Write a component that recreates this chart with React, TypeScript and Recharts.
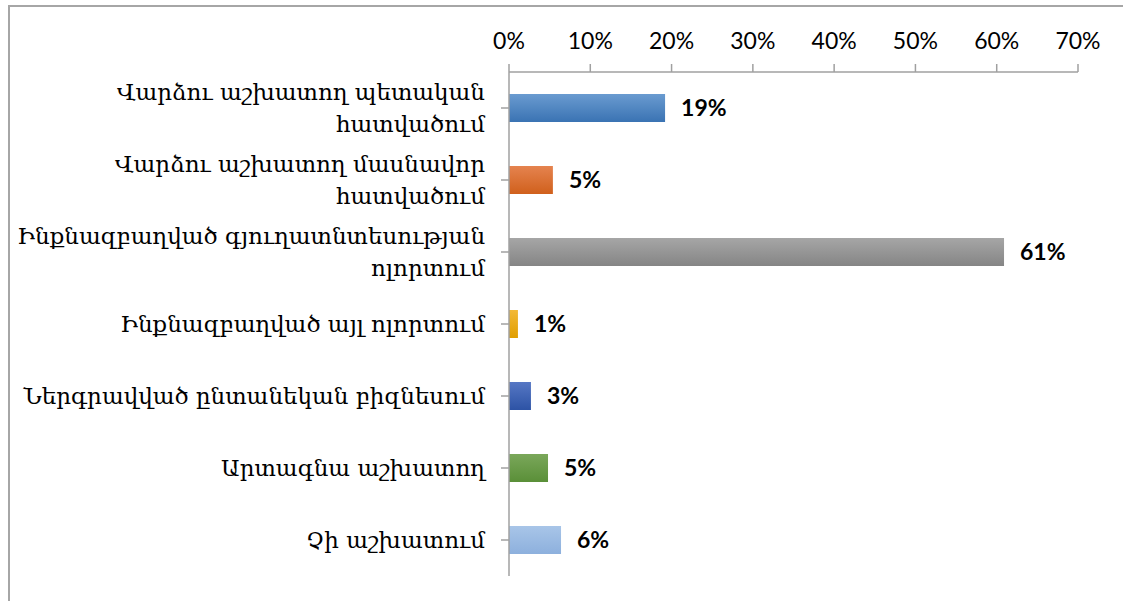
import React from "react";
import { BarChart, Bar, XAxis, YAxis, Cell, LabelList } from "recharts";

const categories = [
  "Վարձու աշխատող պետական\nհատվածում",
  "Վարձու աշխատող մասնավոր\nհատվածում",
  "Ինքնազբաղված գյուղատնտեսության\nոլորտում",
  "Ինքնազբաղված այլ ոլորտում",
  "Ներգրավված ընտանեկան բիզնեսում",
  "Արտագնա աշխատող",
  "Չի աշխատում",
];
const shares = [19.2, 5.4, 60.9, 1.1, 2.7, 4.8, 6.4];
const xTicks = [0, 10, 20, 30, 40, 50, 60, 70];

const gradients = [
  ["#6a9bd0", "#3a73b3"],
  ["#e5834f", "#d0601c"],
  ["#a6a6a6", "#858585"],
  ["#f3b937", "#e09e00"],
  ["#5677c4", "#2d53a5"],
  ["#7aa75a", "#5a8f38"],
  ["#a8c5e8", "#8db0dd"],
];

const data = categories.map((name, i) => ({ name, value: shares[i] }));

const CategoryTick = (props: any) => {
  const { x, y, payload } = props;
  const lines = String(payload.value).split("\n");
  const lh = 32;
  const y0 = y - ((lines.length - 1) * lh) / 2;
  return (
    <text
      x={x}
      y={y0}
      textAnchor="end"
      fontFamily="'DejaVu Serif', serif"
      fontSize={23}
      fill="#000"
      dominantBaseline="central"
    >
      {lines.map((l, i) => (
        <tspan key={i} x={x} y={y0 + i * lh} dominantBaseline="central">
          {l}
        </tspan>
      ))}
    </text>
  );
};

export default function App() {
  return (
    <div style={{ position: "absolute", left: 0, top: 0, width: 1123, height: 601, background: "#fff" }}>
      <div
        style={{
          position: "absolute",
          left: 8,
          top: 5,
          right: -2,
          bottom: -2,
          borderTop: "2px solid #a6a6a6",
          borderLeft: "2px solid #a6a6a6",
        }}
      />
      <div style={{ position: "absolute", left: 0, top: 0 }}>
        <BarChart
          layout="vertical"
          width={1123}
          height={601}
          data={data}
          margin={{ top: 0, right: 45, bottom: 25, left: 0 }}
        >
          <defs>
            {gradients.map((g, i) => (
              <linearGradient key={i} id={`g${i}`} x1="0" y1="0" x2="0" y2="1">
                <stop offset="0%" stopColor={g[0]} />
                <stop offset="100%" stopColor={g[1]} />
              </linearGradient>
            ))}
          </defs>
          <XAxis
            type="number"
            orientation="top"
            domain={[0, 70]}
            ticks={xTicks}
            interval={0}
            height={72}
            tickSize={8}
            tickMargin={15}
            tickFormatter={(v: number) => `${v}%`}
            axisLine={{ stroke: "#a0a0a0", strokeWidth: 1.5 }}
            tickLine={{ stroke: "#a0a0a0", strokeWidth: 1.5 }}
            tick={{ fill: "#000", fontSize: 23, fontFamily: "Lato, sans-serif" }}
          />
          <YAxis
            type="category"
            dataKey="name"
            width={509}
            tickSize={8}
            tickMargin={16}
            interval={0}
            axisLine={{ stroke: "#a0a0a0", strokeWidth: 1.5 }}
            tickLine={{ stroke: "#a0a0a0", strokeWidth: 1.5 }}
            tick={<CategoryTick />}
          />
          <Bar dataKey="value" barSize={28} isAnimationActive={false}>
            {data.map((_, i) => (
              <Cell key={i} fill={`url(#g${i})`} />
            ))}
            <LabelList
              dataKey="value"
              position="right"
              offset={16}
              formatter={(v: any) => `${Math.round(Number(v))}%`}
              fill="#000"
              fontSize={23}
              fontWeight="bold"
              fontFamily="Lato, sans-serif"
            />
          </Bar>
        </BarChart>
      </div>
    </div>
  );
}
